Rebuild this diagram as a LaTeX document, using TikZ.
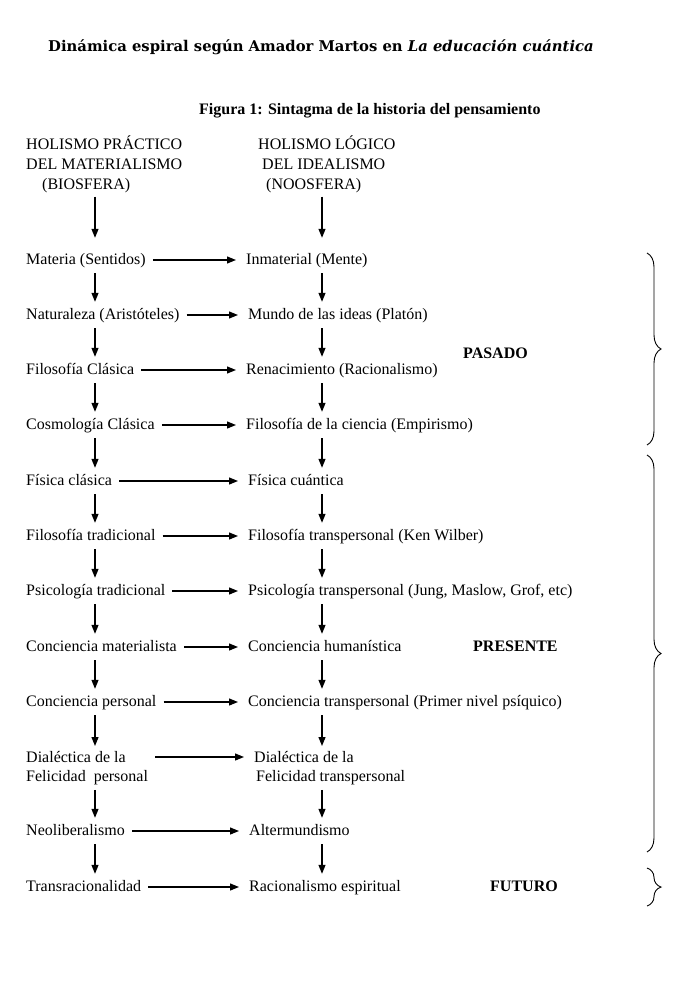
\documentclass[tikz,border=0pt]{standalone}
\usepackage{fontspec}
\setmainfont{Liberation Serif}
\newfontfamily\titlefont{DejaVu Serif}
\usetikzlibrary{arrows.meta,positioning,decorations.pathreplacing}

\begin{document}
\begin{tikzpicture}[x=1pt,y=-1pt,
 every node/.style={inner sep=0pt,font=\fontsize{16}{19}\selectfont},
 lbl/.style={anchor=base west,text height=12pt,text depth=4pt},
 two/.style={anchor=north west,align=left},
 head/.style={anchor=north west,align=left,font=\fontsize{16}{20}\selectfont},
 era/.style={anchor=base west,font=\fontsize{16}{19}\selectfont\bfseries},
 arr/.style={-{Triangle[length=9pt,width=7pt]},line width=1.2pt},
 down/.style={arr,shorten <=5pt,shorten >=5pt},
 across/.style={arr,shorten <=7pt,shorten >=10pt},
 brc/.style={decorate,decoration={brace,amplitude=14pt},line width=0.9pt}]
\useasboundingbox (0,0) rectangle (700,987);

% titles
\node[anchor=base west,font=\fontsize{14.8}{18}\selectfont\titlefont\bfseries] (title) at (48,52)
 {Dinámica espiral según Amador Martos en \textit{La educación cuántica}};
\node[era] (fig) at (199,115) {Figura 1: Sintagma de la historia del pensamiento};

% column heads
\node[head] (hL) at (26,136) {HOLISMO PRÁCTICO\\DEL MATERIALISMO\\\hspace*{16pt}(BIOSFERA)};
\node[head] (hR) at (258,136) {HOLISMO LÓGICO\\\hspace*{4pt}DEL IDEALISMO\\\hspace*{8pt}(NOOSFERA)};
\coordinate (xL) at (95,0);
\coordinate (xR) at (322,0);

% left column
\node[lbl] (mat) at (26,264) {Materia (Sentidos)};
\node[lbl] (nat) at (26,319) {Naturaleza (Aristóteles)};
\node[lbl] (fcl) at (26,374) {Filosofía Clásica};
\node[lbl] (cos) at (26,429) {Cosmología Clásica};
\node[lbl] (fis) at (26,485) {Física clásica};
\node[lbl] (ftr) at (26,540) {Filosofía tradicional};
\node[lbl] (psi) at (26,595) {Psicología tradicional};
\node[lbl] (cma) at (26,651) {Conciencia materialista};
\node[lbl] (cpe) at (26,706) {Conciencia personal};
\node[two] (diaL) at (26,751) {Dialéctica de la\\Felicidad\ \ personal};
\node[lbl] (neo) at (26,835) {Neoliberalismo};
\node[lbl] (tra) at (26,891) {Transracionalidad};

% right column
\node[lbl] (inm) at (246,264) {Inmaterial (Mente)};
\node[lbl] (mun) at (248,319) {Mundo de las ideas (Platón)};
\node[lbl] (ren) at (246,374) {Renacimiento (Racionalismo)};
\node[lbl] (fci) at (246,429) {Filosofía de la ciencia (Empirismo)};
\node[lbl] (fcu) at (248,485) {Física cuántica};
\node[lbl] (ftp) at (248,540) {Filosofía transpersonal (Ken Wilber)};
\node[lbl] (psp) at (248,595) {Psicología transpersonal (Jung, Maslow, Grof, etc)};
\node[lbl] (chu) at (248,651) {Conciencia humanística};
\node[lbl] (ctp) at (248,706) {Conciencia transpersonal (Primer nivel psíquico)};
\node[two] (diaR) at (254,751) {Dialéctica de la\\\hspace*{2pt}Felicidad transpersonal};
\node[lbl] (alt) at (249,835) {Altermundismo};
\node[lbl] (rac) at (249,891) {Racionalismo espiritual};

% periods
\node[era] (pas) at (463,358) {PASADO};
\node[era] (pre) at (473,651) {PRESENTE};
\node[era] (fut) at (490,891) {FUTURO};

% down arrows
\draw[arr,shorten <=3pt,shorten >=14pt] (hL.south -| xL) -- (mat.north -| xL);
\draw[arr,shorten <=3pt,shorten >=14pt] (hR.south -| xR) -- (inm.north -| xR);
\draw[down] (mat.south -| xL) -- (nat.north -| xL);
\draw[down] (nat.south -| xL) -- (fcl.north -| xL);
\draw[down] (fcl.south -| xL) -- (cos.north -| xL);
\draw[down] (cos.south -| xL) -- (fis.north -| xL);
\draw[down] (fis.south -| xL) -- (ftr.north -| xL);
\draw[down] (ftr.south -| xL) -- (psi.north -| xL);
\draw[down] (psi.south -| xL) -- (cma.north -| xL);
\draw[down] (cma.south -| xL) -- (cpe.north -| xL);
\draw[down] (cpe.south -| xL) -- (diaL.north -| xL);
\draw[down] (diaL.south -| xL) -- (neo.north -| xL);
\draw[down] (neo.south -| xL) -- (tra.north -| xL);
\draw[down] (inm.south -| xR) -- (mun.north -| xR);
\draw[down] (mun.south -| xR) -- (ren.north -| xR);
\draw[down] (ren.south -| xR) -- (fci.north -| xR);
\draw[down] (fci.south -| xR) -- (fcu.north -| xR);
\draw[down] (fcu.south -| xR) -- (ftp.north -| xR);
\draw[down] (ftp.south -| xR) -- (psp.north -| xR);
\draw[down] (psp.south -| xR) -- (chu.north -| xR);
\draw[down] (chu.south -| xR) -- (ctp.north -| xR);
\draw[down] (ctp.south -| xR) -- (diaR.north -| xR);
\draw[down] (diaR.south -| xR) -- (alt.north -| xR);
\draw[down] (alt.south -| xR) -- (rac.north -| xR);

% across arrows
\draw[across] (mat) -- (inm);
\draw[across] (nat) -- (mun);
\draw[across] (fcl) -- (ren);
\draw[across] (cos) -- (fci);
\draw[across] (fis) -- (fcu);
\draw[across] (ftr) -- (ftp);
\draw[across] (psi) -- (psp);
\draw[across] (cma) -- (chu);
\draw[across] (cpe) -- (ctp);
\draw[across] ([yshift=-6pt]diaL.north east) -- ([yshift=-6pt]diaR.north west);
\draw[across] (neo) -- (alt);
\draw[across] (tra) -- (rac);

% braces
\draw[brc] (647,253) -- (647,445);
\draw[brc] (647,455) -- (647,852);
\draw[brc] (647,868) -- (647,906);
\end{tikzpicture}
\end{document}
